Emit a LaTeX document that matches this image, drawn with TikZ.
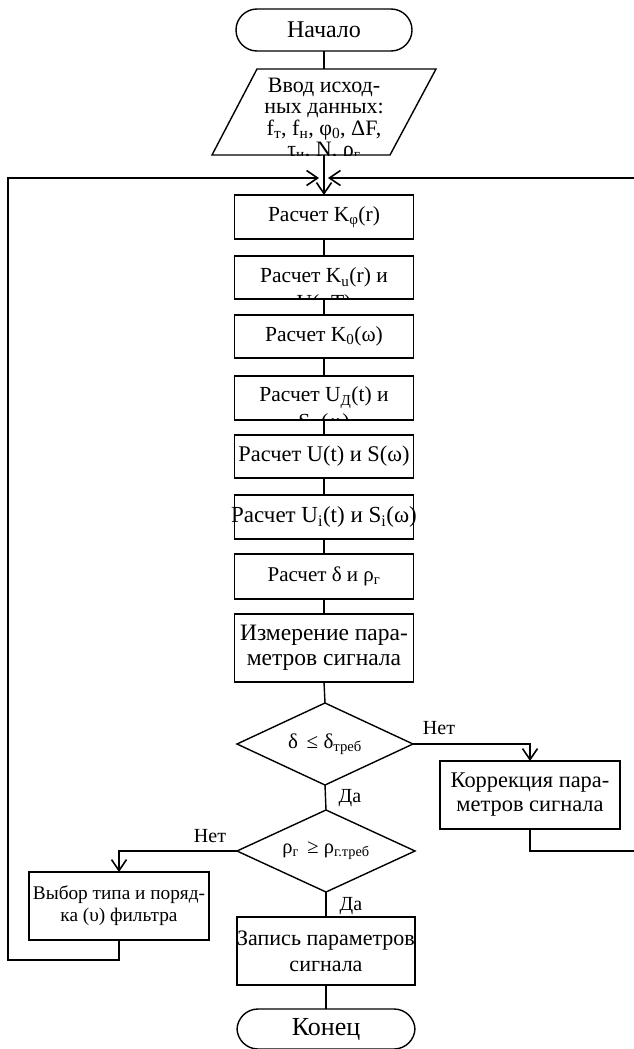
\documentclass[tikz,border=0pt]{standalone}
\usepackage{fontspec}
\setmainfont{Liberation Serif}
\usetikzlibrary{arrows.meta,shapes.geometric}
\newcommand\lo[1]{\textsubscript{#1}}
\newcommand\fsz[2]{\fontsize{#1}{#2}\selectfont}
\begin{document}
\begin{tikzpicture}[x=1pt,y=-1pt,
  every node/.style={inner sep=0pt, outer sep=0pt},
  ln/.style={line width=1.4pt},
  lp/.style={line width=1.8pt},
  arr/.style={-{Straight Barb[length=11pt,width=15pt,line width=1.6pt]}},
  box/.style={draw, ln, rectangle, minimum width=179pt, minimum height=#1},
  box/.default=44pt,
  term/.style={draw, ln, rounded corners=21pt, minimum width=176pt, minimum height=42pt},
  dia/.style={draw, ln, diamond, minimum width=176pt, minimum height=82pt},
  txt/.style={font=\fsz{#1}{24}, align=center},
  txt/.default=21.5,
  lab/.style={font=\fsz{20}{24}, anchor=base}
]
\useasboundingbox (0,0) rectangle (633,1049);

% terminal
\node[term, font=\fsz{24}{28}] (start) at (324,30) {Начало};

% input parallelogram
\coordinate (inTL) at (257,69);
\coordinate (inTR) at (436,69);
\coordinate (inBR) at (390,155);
\coordinate (inBL) at (212,155);
\coordinate (intop) at (324,69);
\coordinate (inbot) at (324,155);
\draw[ln] (inTL) -- (inTR) -- (inBR) -- (inBL) -- cycle;
\begin{scope}
  \clip (inTL) -- (inTR) -- (inBR) -- (inBL) -- cycle;
  \node[font=\fsz{22}{21.5}, align=center, anchor=north] (input) at (324,77)
    {\strut Ввод исход-\\ных данных:\\f\lo{т}, f\lo{н}, φ\lo{0}, ΔF,\\τ\lo{и}, N, ρ\lo{г}};
\end{scope}

% junction points
\coordinate (jL) at (319,178);
\coordinate (jR) at (328,178);

% process boxes
\node[box, label={[txt]center:{Расчет K\lo{φ}(r)}}] (b1) at (324,217) {};
\node[box=43pt, path picture={\node[font=\fsz{21.5}{27}, align=center, anchor=north] at ([yshift=-8pt]path picture bounding box.north) {\strut Расчет K\lo{u}(r) и\\U(r,T)};}] (b2) at (324,277.5) {};
\node[box=43pt, label={[txt]center:{Расчет K\lo{0}(ω)}}] (b3) at (324,336.5) {};
\node[box, path picture={\node[font=\fsz{21.5}{27}, align=center, anchor=north] at ([yshift=-7pt]path picture bounding box.north) {\strut Расчет U\lo{Д}(t) и\\S\lo{Д}(ω)};}] (b4) at (324,398) {};
\node[box=43pt, label={[txt=22.4]center:{Расчет U(t) и S(ω)}}] (b5) at (324,456.5) {};
\node[box, label={[txt=23]center:{Расчет U\lo{i}(t) и S\lo{i}(ω)}}] (b6) at (324,517) {};
\node[box=45pt, label={[txt=21]center:{Расчет δ и ρ\lo{г}}}] (b7) at (324,576.5) {};
\node[box=68pt, label={[font=\fsz{23.5}{25}, align=center]center:{Измерение пара-\\метров сигнала}}] (b8) at (324,648) {};

% decisions
\node[dia, label={[font=\fsz{21}{24}]center:{δ\, ≤ δ\lo{треб}}}] (d1) at (325,744) {};
\node[dia, minimum width=178pt, label={[font=\fsz{20.5}{24}]center:{ρ\lo{г}\, ≥ ρ\lo{г.треб}}}] (d2) at (326,851) {};

% side boxes
\node[box=68pt, minimum width=180pt, label={[font=\fsz{22.4}{24}, align=center]center:{Коррекция пара-\\метров сигнала}}] (k) at (530,795) {};
\node[box=68pt, minimum width=180pt, label={[font=\fsz{19.3}{22}, align=center]center:{Выбор типа и поряд-\\ка (υ) фильтра}}] (v) at (119,906) {};

% final
\node[box=68pt, minimum width=178pt, label={[font=\fsz{22}{26}, align=center]center:{Запись параметров\\сигнала}}] (z) at (326,951) {};
\node[term, minimum width=178pt, minimum height=40pt, font=\fsz{26}{30}] (end) at (326,1029) {Конец};

% loop corners
\coordinate (lc) at (8,960);
\coordinate (rc) at (640,851);

% connectors
\draw[ln] (start.south) -- (intop);
\draw[ln, arr] (inbot) -- (b1.north);
\draw[ln] (b1) -- (b2);
\draw[ln] (b2) -- (b3);
\draw[ln] (b3) -- (b4);
\draw[ln] (b4) -- (b5);
\draw[ln] (b5) -- (b6);
\draw[ln] (b6) -- (b7);
\draw[ln] (b7) -- (b8);
\draw[ln] (b8.south) -- (d1.north);
\draw[ln] (d1.south) -- (d2.north);
\draw[ln] (d2.south) -- (z.north);
\draw[ln] (z.south) -- (end.north);
\draw[ln, arr] (d1.east) -| (k.north);
\draw[ln, arr] (d2.west) -| (v.north);
\draw[lp, arr] (v.south) |- (lc) |- (jL);
\draw[lp, arr] (k.south) |- (rc) |- (jR);

% labels
\node[lab] (l1) at (439,734) {Нет};
\node[lab] (l2) at (350,802) {Да};
\node[lab] (l3) at (210,842) {Нет};
\node[lab] (l4) at (351,910) {Да};
\end{tikzpicture}
\end{document}
